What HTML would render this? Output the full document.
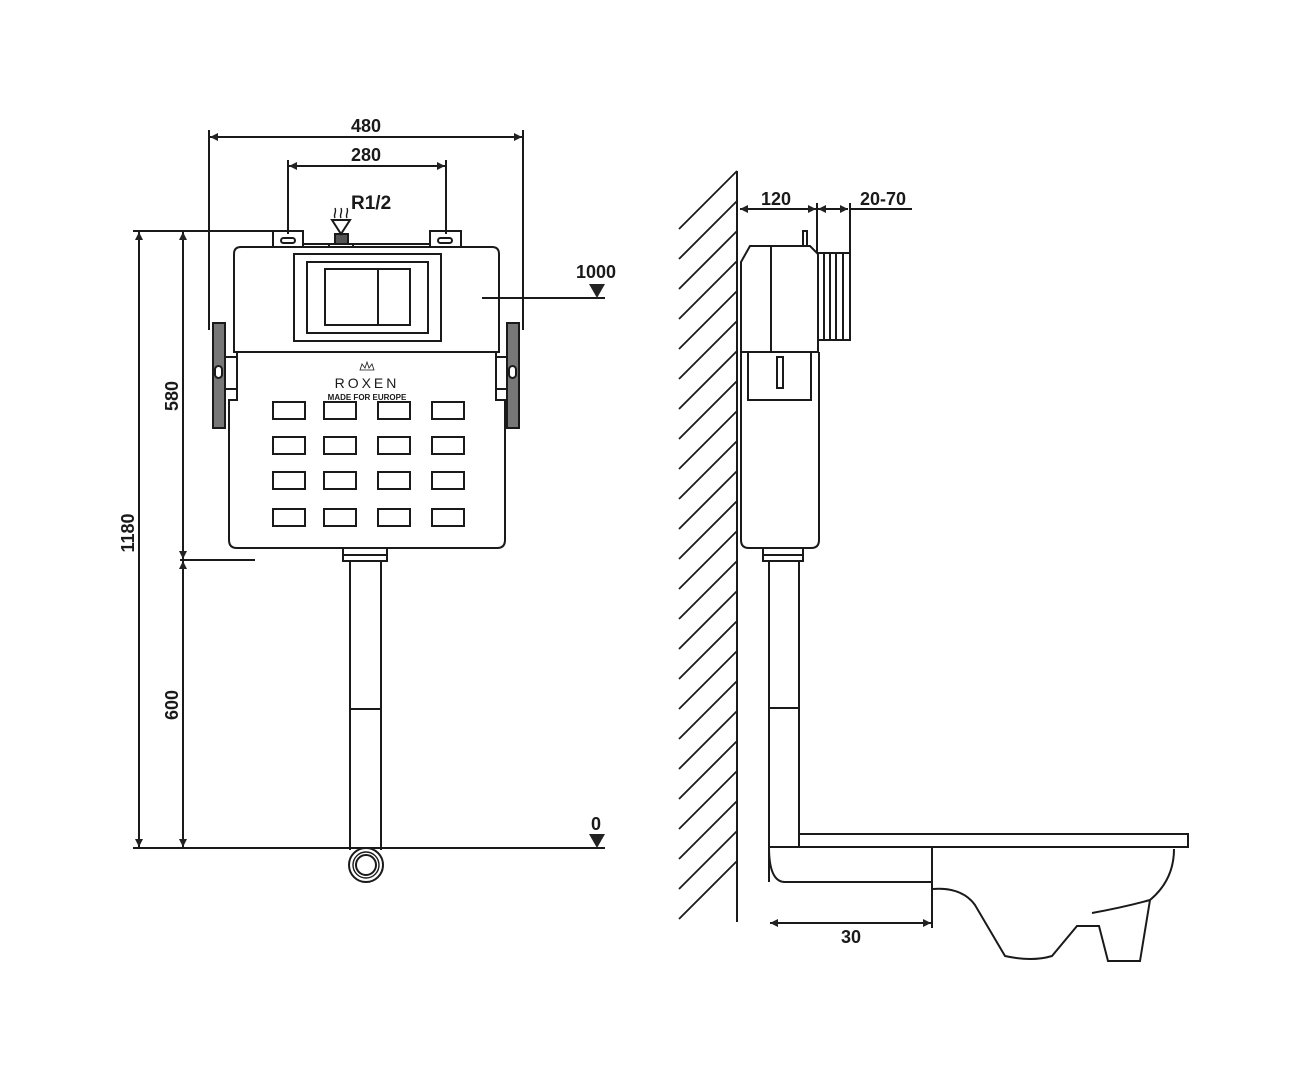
<!DOCTYPE html>
<html><head><style>html,body{margin:0;padding:0;background:#fff}svg{display:block}text{font-family:"Liberation Sans",Arial,sans-serif;font-weight:bold;fill:#1a1a1a}</style></head>
<body>
<svg width="1309" height="1080" viewBox="0 0 1309 1080" xmlns="http://www.w3.org/2000/svg">
<defs><marker id="a" viewBox="0 0 10 10" refX="10" refY="5" markerWidth="11" markerHeight="8" orient="auto-start-reverse" markerUnits="userSpaceOnUse"><path d="M0,0L10,5L0,10z" fill="#222"/></marker></defs>
<g stroke="#1a1a1a" stroke-width="2" fill="none">
<line x1="209" y1="130" x2="209" y2="330"/><line x1="523" y1="130" x2="523" y2="330"/>
<line x1="210" y1="137" x2="522" y2="137" marker-start="url(#a)" marker-end="url(#a)"/>
<line x1="288" y1="160" x2="288" y2="234"/><line x1="446" y1="160" x2="446" y2="234"/>
<line x1="289" y1="166" x2="445" y2="166" marker-start="url(#a)" marker-end="url(#a)"/>
<line x1="133" y1="231" x2="275" y2="231"/><line x1="180" y1="560" x2="255" y2="560"/><line x1="133" y1="848" x2="605" y2="848"/>
<line x1="139" y1="232" x2="139" y2="847" marker-start="url(#a)" marker-end="url(#a)"/>
<line x1="183" y1="232" x2="183" y2="559" marker-start="url(#a)" marker-end="url(#a)"/>
<line x1="183" y1="561" x2="183" y2="847" marker-start="url(#a)" marker-end="url(#a)"/>
<line x1="482" y1="298" x2="605" y2="298"/>
<path d="M273,247V231H303V247M430,247V231H461V247"/>
<rect x="281" y="238" width="14" height="5" rx="2.5"/><rect x="438" y="238" width="14" height="5" rx="2.5"/>
<path d="M303,247V244H430V247"/>
<rect x="329" y="244" width="24" height="3"/>
<rect x="335" y="234" width="13" height="10" fill="#555"/>
<path d="M332,220L341,234L350,220Z"/>
<path d="M335,218c-2,-4 2,-5 0,-10M341,218c-2,-4 2,-5 0,-10M347,218c-2,-4 2,-5 0,-10" stroke-width="1.4"/>
<path d="M234,352V254Q234,247 241,247H492Q499,247 499,254V352Z"/>
<rect x="294" y="254" width="147" height="87"/><rect x="307" y="262" width="121" height="71"/>
<rect x="325" y="269" width="85" height="56"/><line x1="378" y1="269" x2="378" y2="325"/>
<path d="M237,352V400H229V540Q229,548 237,548H497Q505,548 505,540V400H496V352"/>
<path d="M237,357H213V389H237M496,357H519V389H496"/>
<rect x="213" y="323" width="12" height="105" fill="#777"/><rect x="507" y="323" width="12" height="105" fill="#777"/>
<rect x="215" y="366" width="7" height="12" rx="3.5" fill="#fff"/><rect x="509" y="366" width="7" height="12" rx="3.5" fill="#fff"/>
<g>
<rect x="273" y="402" width="32" height="17"/><rect x="324" y="402" width="32" height="17"/><rect x="378" y="402" width="32" height="17"/><rect x="432" y="402" width="32" height="17"/>
<rect x="273" y="437" width="32" height="17"/><rect x="324" y="437" width="32" height="17"/><rect x="378" y="437" width="32" height="17"/><rect x="432" y="437" width="32" height="17"/>
<rect x="273" y="472" width="32" height="17"/><rect x="324" y="472" width="32" height="17"/><rect x="378" y="472" width="32" height="17"/><rect x="432" y="472" width="32" height="17"/>
<rect x="273" y="509" width="32" height="17"/><rect x="324" y="509" width="32" height="17"/><rect x="378" y="509" width="32" height="17"/><rect x="432" y="509" width="32" height="17"/>
</g>
<path d="M360,370l2,-6 3,4 2,-6 2,6 3,-4 2,6z" stroke-width="0.8"/>
<rect x="343" y="548" width="44" height="13"/><line x1="343" y1="555" x2="387" y2="555"/>
<path d="M350,561V850M381,561V850M350,709H381"/>
<circle cx="366" cy="865" r="17"/><circle cx="366" cy="865" r="13" stroke-width="1.4"/><circle cx="366" cy="865" r="10"/>
<line x1="737" y1="171" x2="737" y2="922"/>
<line x1="740" y1="209" x2="816" y2="209" marker-start="url(#a)" marker-end="url(#a)"/>
<line x1="818" y1="209" x2="848" y2="209" marker-start="url(#a)" marker-end="url(#a)"/>
<line x1="850" y1="209" x2="912" y2="209"/>
<line x1="817" y1="203" x2="817" y2="253"/><line x1="850" y1="203" x2="850" y2="253"/>
<path d="M741,352V262L750,246H810L818,254V340L818,352Z"/>
<line x1="771" y1="246" x2="771" y2="352"/>
<rect x="803" y="231" width="4" height="15"/>
<rect x="818" y="253" width="32" height="87"/>
<path d="M824,253V340M830,253V340M836,253V340M843,253V340"/>
<path d="M741,352V540Q741,548 749,548H811Q819,548 819,540V352"/>
<rect x="748" y="352" width="63" height="48"/><rect x="777" y="357" width="6" height="31"/>
<rect x="763" y="548" width="40" height="13"/><line x1="763" y1="555" x2="803" y2="555"/>
<path d="M769,561V882M799,561V835M769,708H799"/>
<rect x="799" y="834" width="389" height="13"/>
<line x1="769" y1="847" x2="799" y2="847"/>
<path d="M769,847Q769,882 785,882H932"/>
<line x1="932" y1="847" x2="932" y2="928"/>
<line x1="770" y1="923" x2="931" y2="923" marker-start="url(#a)" marker-end="url(#a)"/>
<path d="M933,889Q962,887 975,905L1005,956Q1032,962 1052,956L1077,926H1099L1108,961H1140L1150,900Q1174,880 1174,849"/>
<path d="M1092,913Q1125,907 1150,900"/>
</g>
<g stroke="#1a1a1a" stroke-width="1.8">
<line x1="737" y1="171" x2="679" y2="229"/><line x1="737" y1="201" x2="679" y2="259"/><line x1="737" y1="231" x2="679" y2="289"/><line x1="737" y1="261" x2="679" y2="319"/><line x1="737" y1="291" x2="679" y2="349"/><line x1="737" y1="321" x2="679" y2="379"/><line x1="737" y1="351" x2="679" y2="409"/><line x1="737" y1="381" x2="679" y2="439"/><line x1="737" y1="411" x2="679" y2="469"/><line x1="737" y1="441" x2="679" y2="499"/><line x1="737" y1="471" x2="679" y2="529"/><line x1="737" y1="501" x2="679" y2="559"/><line x1="737" y1="531" x2="679" y2="589"/><line x1="737" y1="561" x2="679" y2="619"/><line x1="737" y1="591" x2="679" y2="649"/><line x1="737" y1="621" x2="679" y2="679"/><line x1="737" y1="651" x2="679" y2="709"/><line x1="737" y1="681" x2="679" y2="739"/><line x1="737" y1="711" x2="679" y2="769"/><line x1="737" y1="741" x2="679" y2="799"/><line x1="737" y1="771" x2="679" y2="829"/><line x1="737" y1="801" x2="679" y2="859"/><line x1="737" y1="831" x2="679" y2="889"/><line x1="737" y1="861" x2="679" y2="919"/>
</g>
<path d="M589,284H605L597,298Z" fill="#222"/><path d="M589,834H605L597,848Z" fill="#222"/>
<text x="366" y="132" font-size="18" text-anchor="middle">480</text>
<text x="366" y="161" font-size="18" text-anchor="middle">280</text>
<text x="351" y="209" font-size="19">R1/2</text>
<text x="596" y="278" font-size="18" text-anchor="middle">1000</text>
<text x="596" y="830" font-size="18" text-anchor="middle">0</text>
<text x="776" y="205" font-size="18" text-anchor="middle">120</text>
<text x="883" y="205" font-size="18" text-anchor="middle">20-70</text>
<text x="851" y="943" font-size="18" text-anchor="middle">30</text>
<text transform="translate(178,396) rotate(-90)" font-size="18" text-anchor="middle">580</text>
<text transform="translate(178,705) rotate(-90)" font-size="18" text-anchor="middle">600</text>
<text transform="translate(134,533) rotate(-90)" font-size="18" text-anchor="middle">1180</text>
<text x="367" y="388" font-size="14" text-anchor="middle" letter-spacing="3" style="font-weight:normal">ROXEN</text>
<text x="367" y="400" font-size="8" text-anchor="middle">MADE FOR EUROPE</text>
</svg>
</body></html>
